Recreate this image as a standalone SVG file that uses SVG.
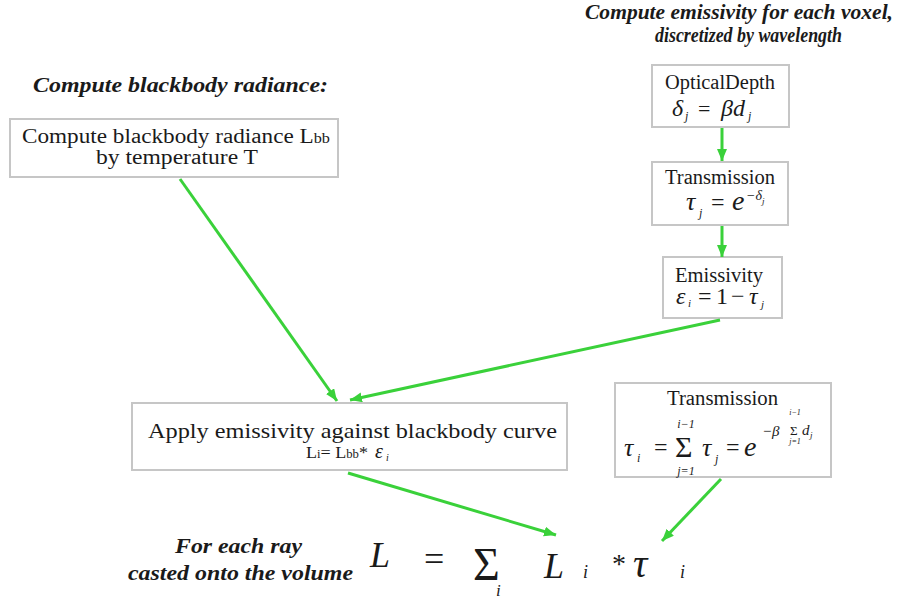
<svg xmlns="http://www.w3.org/2000/svg" width="901" height="601" viewBox="0 0 901 601">
<defs>
<marker id="ah" markerUnits="userSpaceOnUse" markerWidth="14" markerHeight="12" refX="12" refY="5" orient="auto">
<path d="M0,0 L12,5 L0,10 z" fill="#3ad13a"/>
</marker>
</defs>
<rect width="901" height="601" fill="#fff"/>

<g id="title-left" fill="#1a1a1a"><text font-family="Liberation Serif" font-size="22" font-weight="bold" font-style="italic" x="33" y="92" textLength="295" lengthAdjust="spacingAndGlyphs">Compute blackbody radiance:</text></g>
<g id="title-right" fill="#1a1a1a">
<text font-family="Liberation Serif" font-size="21" font-weight="bold" font-style="italic" x="585" y="19" textLength="308" lengthAdjust="spacingAndGlyphs">Compute emissivity for each voxel,</text>
<text font-family="Liberation Serif" font-size="21" font-weight="bold" font-style="italic" x="655" y="42" textLength="187" lengthAdjust="spacingAndGlyphs">discretized by wavelength</text>
</g>

<g id="blackbody" fill="#1a1a1a">
<rect x="10" y="119" width="328" height="58" fill="#fff" stroke="#c6c6c6" stroke-width="2"/>
<text font-family="Liberation Serif" font-size="20" x="22" y="143" textLength="308" lengthAdjust="spacingAndGlyphs">Compute blackbody radiance L<tspan font-size="14">bb</tspan></text>
<text font-family="Liberation Serif" font-size="20" x="96" y="164" textLength="162" lengthAdjust="spacingAndGlyphs">by temperature T</text>
</g>

<g id="opticaldepth" fill="#1a1a1a">
<rect x="652" y="65" width="137" height="62" fill="#fff" stroke="#c6c6c6" stroke-width="2"/>
<text font-family="Liberation Serif" font-size="20" x="665" y="89" textLength="110" lengthAdjust="spacingAndGlyphs">OpticalDepth</text>
<text font-family="Liberation Serif" font-size="24" font-style="italic" x="672" y="116">δ</text>
<text font-family="Liberation Serif" font-size="12" font-style="italic" x="685" y="120">j</text>
<text font-family="Liberation Serif" font-size="22" x="698" y="116">=</text>
<text font-family="Liberation Serif" font-size="24" font-style="italic" x="721" y="116">βd</text>
<text font-family="Liberation Serif" font-size="12" font-style="italic" x="748" y="120">j</text>
</g>

<g id="transmission1" fill="#1a1a1a">
<rect x="652" y="162" width="136" height="63" fill="#fff" stroke="#c6c6c6" stroke-width="2"/>
<text font-family="Liberation Serif" font-size="20" x="665" y="184" textLength="110" lengthAdjust="spacingAndGlyphs">Transmission</text>
<text font-family="Liberation Serif" font-size="26" font-style="italic" x="686" y="210">τ</text>
<text font-family="Liberation Serif" font-size="12" font-style="italic" x="699" y="217">j</text>
<text font-family="Liberation Serif" font-size="24" x="711" y="210">=</text>
<text font-family="Liberation Serif" font-size="28" font-style="italic" x="732" y="210">e</text>
<text font-family="Liberation Serif" font-size="14" font-style="italic" x="746" y="200">−δ</text>
<text font-family="Liberation Serif" font-size="9" font-style="italic" x="762" y="204">j</text>
</g>

<g id="emissivity" fill="#1a1a1a">
<rect x="663" y="257" width="119" height="61" fill="#fff" stroke="#c6c6c6" stroke-width="2"/>
<text font-family="Liberation Serif" font-size="20" x="675" y="282" textLength="88" lengthAdjust="spacingAndGlyphs">Emissivity</text>
<text font-family="Liberation Serif" font-size="24" font-style="italic" x="676" y="304">ε</text>
<text font-family="Liberation Serif" font-size="11" font-style="italic" x="688" y="307">i</text>
<text font-family="Liberation Serif" font-size="24" x="698" y="304">=</text>
<text font-family="Liberation Serif" font-size="24" x="716" y="304">1</text>
<text font-family="Liberation Serif" font-size="24" x="731" y="304">−</text>
<text font-family="Liberation Serif" font-size="24" font-style="italic" x="749" y="304">τ</text>
<text font-family="Liberation Serif" font-size="11" font-style="italic" x="761" y="308">j</text>
</g>

<g id="apply" fill="#1a1a1a">
<rect x="132" y="403" width="435" height="67" fill="#fff" stroke="#c6c6c6" stroke-width="2"/>
<text font-family="Liberation Serif" font-size="21" x="148" y="438" textLength="409" lengthAdjust="spacingAndGlyphs">Apply emissivity against blackbody curve</text>
<text font-family="Liberation Serif" font-size="17" x="306" y="458" textLength="62" lengthAdjust="spacingAndGlyphs">L<tspan font-size="12">i</tspan>= L<tspan font-size="12">bb</tspan>*</text>
<text font-family="Liberation Serif" font-size="20" font-style="italic" x="375" y="458">ε</text>
<text font-family="Liberation Serif" font-size="10" font-style="italic" x="386" y="461">i</text>
</g>

<g id="transmission2" fill="#1a1a1a">
<rect x="615" y="383" width="216" height="94" fill="#fff" stroke="#c6c6c6" stroke-width="2"/>
<text font-family="Liberation Serif" font-size="20" x="667" y="405" textLength="111" lengthAdjust="spacingAndGlyphs">Transmission</text>
<text font-family="Liberation Serif" font-size="26" font-style="italic" x="624" y="456">τ</text>
<text font-family="Liberation Serif" font-size="12" font-style="italic" x="637" y="462">i</text>
<text font-family="Liberation Serif" font-size="24" x="654" y="455">=</text>
<text font-family="Liberation Serif" font-size="30" x="675" y="457">Σ</text>
<text font-family="Liberation Serif" font-size="12" font-style="italic" x="686" y="428" text-anchor="middle">i−1</text>
<text font-family="Liberation Serif" font-size="12" font-style="italic" x="686" y="475" text-anchor="middle">j=1</text>
<text font-family="Liberation Serif" font-size="26" font-style="italic" x="702" y="456">τ</text>
<text font-family="Liberation Serif" font-size="12" font-style="italic" x="715" y="463">j</text>
<text font-family="Liberation Serif" font-size="24" x="726" y="455">=</text>
<text font-family="Liberation Serif" font-size="28" font-style="italic" x="744" y="456">e</text>
<text font-family="Liberation Serif" font-size="15" font-style="italic" x="762" y="436">−β</text>
<text font-family="Liberation Serif" font-size="13" x="790" y="435">Σ</text>
<text font-family="Liberation Serif" font-size="8" font-style="italic" x="795" y="415" text-anchor="middle">i−1</text>
<text font-family="Liberation Serif" font-size="8" font-style="italic" x="795" y="444" text-anchor="middle">j=1</text>
<text font-family="Liberation Serif" font-size="15" font-style="italic" x="802" y="435">d</text>
<text font-family="Liberation Serif" font-size="9" font-style="italic" x="810" y="438">j</text>
</g>

<g id="raycaption" fill="#1a1a1a">
<text font-family="Liberation Serif" font-size="22" font-weight="bold" font-style="italic" x="175" y="553" textLength="127" lengthAdjust="spacingAndGlyphs">For each ray</text>
<text font-family="Liberation Serif" font-size="22" font-weight="bold" font-style="italic" x="128" y="580" textLength="225" lengthAdjust="spacingAndGlyphs">casted onto the volume</text>
</g>

<g id="sumformula" fill="#1a1a1a">
<text font-family="Liberation Serif" font-size="36" font-style="italic" x="370" y="567">L</text>
<text font-family="Liberation Serif" font-size="36" x="424" y="571">=</text>
<text font-family="Liberation Serif" font-size="46" x="473" y="580">Σ</text>
<text font-family="Liberation Serif" font-size="17" font-style="italic" x="496" y="596">i</text>
<text font-family="Liberation Serif" font-size="36" font-style="italic" x="544" y="578">L</text>
<text font-family="Liberation Serif" font-size="18" font-style="italic" x="583" y="578">i</text>
<text font-family="Liberation Serif" font-size="28" x="612" y="573">*</text>
<text font-family="Liberation Serif" font-size="40" font-style="italic" x="633" y="577">τ</text>
<text font-family="Liberation Serif" font-size="18" font-style="italic" x="680" y="578">i</text>
</g>

<g id="connectors" stroke="#3ad13a" stroke-width="3" fill="none">
<line x1="722" y1="128" x2="722" y2="161" marker-end="url(#ah)"/>
<line x1="722" y1="226" x2="722" y2="257" marker-end="url(#ah)"/>
<line x1="180" y1="179" x2="337" y2="401" marker-end="url(#ah)"/>
<line x1="720" y1="320" x2="350" y2="400" marker-end="url(#ah)"/>
<line x1="348" y1="473" x2="556" y2="535" marker-end="url(#ah)"/>
<line x1="721" y1="479" x2="662" y2="541" marker-end="url(#ah)"/>
</g>
</svg>
